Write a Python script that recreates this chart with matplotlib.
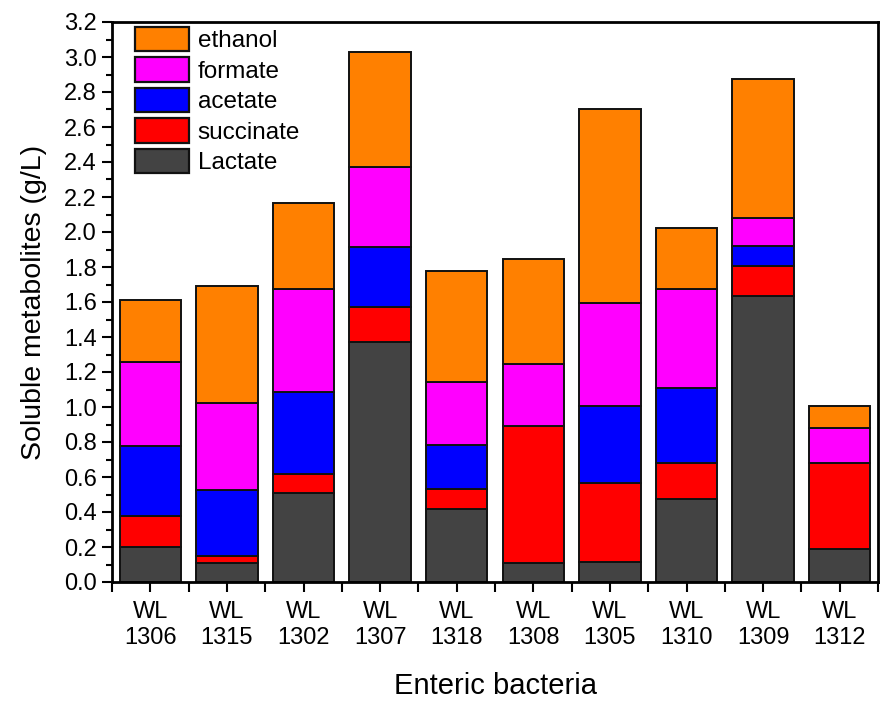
import matplotlib
matplotlib.use("Agg")
import matplotlib.pyplot as plt
import numpy as np
from matplotlib.ticker import MultipleLocator

plt.rcParams['font.family'] = ['Liberation Sans', 'DejaVu Sans']

strains = ["WL\n1306", "WL\n1315", "WL\n1302", "WL\n1307", "WL\n1318",
           "WL\n1308", "WL\n1305", "WL\n1310", "WL\n1309", "WL\n1312"]
lactate = [0.20, 0.107, 0.507, 1.373, 0.417, 0.110, 0.112, 0.472, 1.633, 0.19]
succinate = [0.175, 0.042, 0.108, 0.197, 0.113, 0.781, 0.456, 0.208, 0.173, 0.49]
acetate = [0.40, 0.377, 0.472, 0.346, 0.251, 0.0, 0.44, 0.43, 0.116, 0.0]
formate = [0.48, 0.497, 0.585, 0.457, 0.364, 0.356, 0.588, 0.566, 0.16, 0.198]
ethanol = [0.355, 0.67, 0.494, 0.657, 0.632, 0.601, 1.109, 0.349, 0.792, 0.126]

series = [("Lactate", lactate, "#434343"),
          ("succinate", succinate, "#FF0000"),
          ("acetate", acetate, "#0000FF"),
          ("formate", formate, "#FF00FF"),
          ("ethanol", ethanol, "#FF8000")]

fig = plt.figure(figsize=(8.8, 7.01), dpi=100)
ax = fig.add_axes([112/880, 1 - 582/701, (878 - 112)/880, (582 - 22)/701])

x = np.arange(len(strains))
bottom = np.zeros(len(strains))
handles = []
for name, vals, col in series:
    vals = np.array(vals)
    b = ax.bar(x, vals, width=0.8, bottom=bottom, color=col, edgecolor="#111111",
               linewidth=1.4, label=name)
    handles.append(b)
    bottom += vals

ax.set_xlim(-0.5, len(strains) - 0.5)
ax.set_ylim(0, 3.2)
ax.yaxis.set_minor_locator(MultipleLocator(0.1))
ax.set_yticks(np.arange(0, 3.21, 0.2))
ax.set_yticklabels([f"{v:.1f}" for v in np.arange(0, 3.21, 0.2)])
ax.set_xticks(x)
ax.set_xticklabels(strains, linespacing=1.2)
ax.set_xticks(np.arange(-0.5, len(strains), 1.0), minor=True)

ax.tick_params(axis="both", which="major", direction="out", length=7, width=1.5,
               labelsize=17, pad=4)
ax.tick_params(axis="x", which="major", pad=7)
ax.tick_params(axis="y", which="minor", direction="out", length=4, width=1.5)
ax.tick_params(axis="x", which="minor", direction="out", length=7, width=1.5)
for s in ax.spines.values():
    s.set_linewidth(2)

ax.set_ylabel("Soluble metabolites (g/L)", fontsize=20.5, labelpad=12)
ax.set_xlabel("Enteric bacteria", fontsize=21, labelpad=17)

leg = ax.legend(handles[::-1], [s[0] for s in series][::-1], loc="upper left",
                bbox_to_anchor=(0.0104, 1.018), frameon=False, fontsize=17.5,
                handlelength=2.25, handleheight=1.2, labelspacing=0.2,
                handletextpad=0.35, borderaxespad=0.2)
for h in leg.legend_handles:
    h.set_linewidth(1.6)

fig.savefig("out.png", dpi=100)
